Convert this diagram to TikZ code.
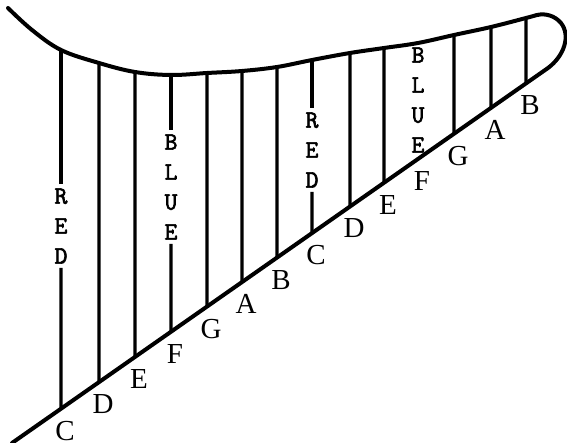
\documentclass[tikz,border=0pt]{standalone}
\usepackage{fontspec}
\usepackage{tikz}
\usetikzlibrary{calc}
\newfontfamily\notefont{Liberation Serif}
\newfontfamily\stampfont[FakeBold=2.5]{Latin Modern Mono}
\tikzset{
  outline/.style={line width=4pt, line cap=round, line join=round},
  rod/.style={line width=3.2pt},
  word/.style={align=center, inner sep=4pt, font=\stampfont\fontsize{25}{30}\selectfont},
  note/.style={inner sep=0pt, font=\notefont\fontsize{29}{29}\selectfont},
}

\begin{document}
\begin{tikzpicture}[x=1pt, y=-1pt]
  \useasboundingbox (0,0) rectangle (567,443);
  % ends of the slanted base
  \coordinate (d0) at (12,443);
  \coordinate (d1) at (528,82);
  % feet on the base, tops on the curve, letters under the feet
  \foreach \i/\x/\y/\L in {1/61/50/C, 2/99/63/D, 3/135/72/E, 4/171/75/F,
      5/207/73/G, 6/242/71/A, 7/277/67/B, 8/312/60/C, 9/350/53/D,
      10/384/48/E, 11/418/43/F, 12/454/35/G, 13/491/27/A, 14/526/18/B} {
    \coordinate (b\i) at ($(d0)!{(\x-12)/516}!(d1)$);
    \coordinate (t\i) at (\x,\y);
    \node[note] (n\i) at ([xshift=4pt,yshift=-22pt]b\i) {\L};
  }

  % plain rods
  \foreach \i in {2,3,5,6,7,9,10,12,13,14}
    \draw[rod] (t\i) -- (b\i);

  % broken rods
  \node[word] (red1) at (61,226) {R\\E\\D};
  \node[word] (blue1) at (171,187) {B\\L\\U\\E};
  \node[word] (red2) at (312,150) {R\\E\\D};
  \node[word] (blue2) at (418,100) {B\\L\\U\\E};
  \draw[rod] (t1) -- (red1.north);
  \draw[rod] (red1.south) -- (b1);
  \draw[rod] (t4) -- (blue1.north);
  \draw[rod] (blue1.south) -- (b4);
  \draw[rod] (t8) -- (red2.north);
  \draw[rod] (red2.south) -- (b8);

  % outline
  \draw[outline] (d0) -- (548,68) .. controls (564,56) and (571,36) .. (561,23)
    .. controls (555,16) and (546,13) .. (537,15);
  \draw[outline] plot[smooth, tension=0.6] coordinates {(537,15) (t14) (t13) (t12)
    (t11) (t10) (t9) (t8) (t7) (t6) (t5) (t4) (t3) (t2) (t1) (32,30) (8,8)};
\end{tikzpicture}
\end{document}
